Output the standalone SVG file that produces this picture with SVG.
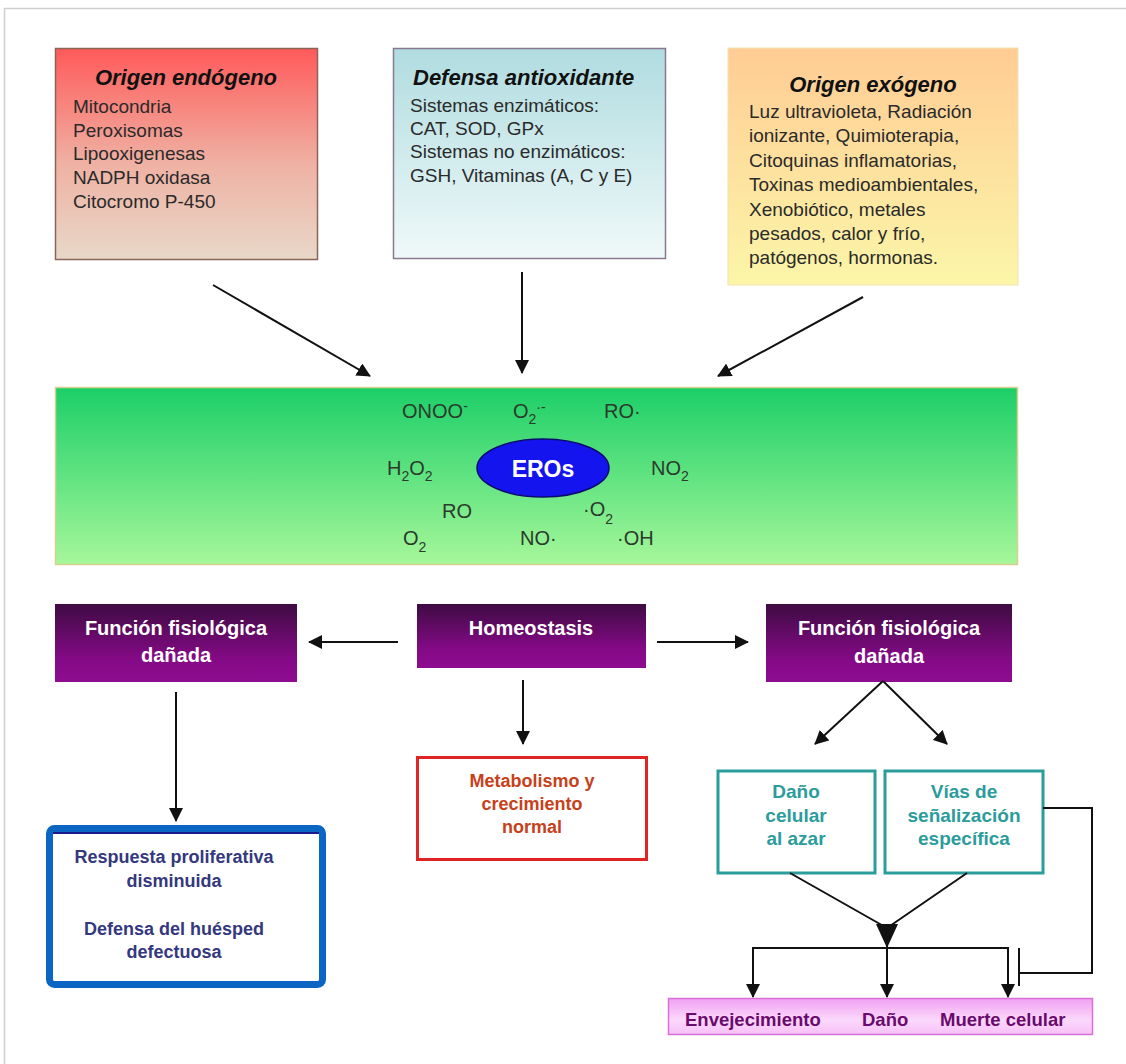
<svg xmlns="http://www.w3.org/2000/svg" width="1126" height="1064" viewBox="0 0 1126 1064">
<defs>
<linearGradient id="gRed" x1="0" y1="0" x2="0" y2="1"><stop offset="0" stop-color="#ff5a5a"/><stop offset="0.55" stop-color="#efb2a4"/><stop offset="1" stop-color="#e8d8c8"/></linearGradient>
<linearGradient id="gBlue" x1="0" y1="0" x2="0" y2="1"><stop offset="0" stop-color="#b0dce0"/><stop offset="1" stop-color="#f0f9f9"/></linearGradient>
<linearGradient id="gOrange" x1="0" y1="0" x2="0" y2="1"><stop offset="0" stop-color="#ffcc94"/><stop offset="1" stop-color="#fbf6a8"/></linearGradient>
<linearGradient id="gGreen" x1="0" y1="0" x2="0" y2="1"><stop offset="0" stop-color="#1ccf68"/><stop offset="1" stop-color="#a6f79a"/></linearGradient>
<linearGradient id="gPurple" x1="0" y1="0" x2="0" y2="1"><stop offset="0" stop-color="#3e0b42"/><stop offset="0.7" stop-color="#840a86"/><stop offset="1" stop-color="#8e0c90"/></linearGradient>
<linearGradient id="gPink" x1="0" y1="0" x2="0" y2="1"><stop offset="0" stop-color="#f2a0f2"/><stop offset="0.6" stop-color="#fbd8fb"/><stop offset="1" stop-color="#f8c0f8"/></linearGradient>
<marker id="arr" viewBox="0 0 14 14" refX="13" refY="7" markerWidth="14" markerHeight="14" markerUnits="userSpaceOnUse" orient="auto"><path d="M0,0 L14,7 L0,14 z" fill="#111"/></marker>
<style>
.t{font-family:"Liberation Sans",Arial,sans-serif;}
.body{font-size:19px;fill:#2a2a2a;}
.title{font-size:22px;font-weight:bold;font-style:italic;fill:#111;}
.ros{font-size:20px;fill:#2b3a2b;}
.sub{font-size:14px;}
.wb{font-size:20px;font-weight:bold;fill:#fff;text-anchor:middle;}
.teal{font-size:19px;font-weight:bold;fill:#2a9c9c;text-anchor:middle;}
.red{font-size:18px;font-weight:bold;fill:#c8401a;text-anchor:middle;}
.navy{font-size:18px;font-weight:bold;fill:#34387e;text-anchor:middle;}
.pink{font-size:18.5px;font-weight:bold;fill:#6a0a6e;}
.ln{stroke:#111;stroke-width:2;fill:none;}
</style>
</defs>
<rect width="1126" height="1064" fill="#fff"/>
<path d="M4.5,1064 V8.5 H1126" stroke="#cfcfcf" stroke-width="1.5" fill="none"/>

<g id="endogeno">
<rect x="55.5" y="48.5" width="262" height="211" fill="url(#gRed)" stroke="#8a6458" stroke-width="1.5"/>
<text class="t title" x="186" y="85" text-anchor="middle">Origen endógeno</text>
<text class="t body" x="73" y="113">Mitocondria</text>
<text class="t body" x="73" y="137">Peroxisomas</text>
<text class="t body" x="73" y="160">Lipooxigenesas</text>
<text class="t body" x="73" y="184">NADPH oxidasa</text>
<text class="t body" x="73" y="208">Citocromo P-450</text>
</g>

<g id="antioxidante">
<rect x="393.5" y="48.5" width="272" height="210" fill="url(#gBlue)" stroke="#8a7890" stroke-width="1.5"/>
<text class="t title" x="413" y="85">Defensa antioxidante</text>
<text class="t body" x="410" y="112">Sistemas enzimáticos:</text>
<text class="t body" x="410" y="135">CAT, SOD, GPx</text>
<text class="t body" x="410" y="158">Sistemas no enzimáticos:</text>
<text class="t body" x="410" y="182">GSH, Vitaminas (A, C y E)</text>
</g>

<g id="exogeno">
<rect x="728" y="48" width="290" height="237" fill="url(#gOrange)" stroke="#f2e2b0" stroke-width="1"/>
<text class="t title" x="873" y="92" text-anchor="middle">Origen exógeno</text>
<text class="t body" x="749" y="118">Luz ultravioleta, Radiación</text>
<text class="t body" x="749" y="142">ionizante, Quimioterapia,</text>
<text class="t body" x="749" y="167">Citoquinas inflamatorias,</text>
<text class="t body" x="749" y="191">Toxinas medioambientales,</text>
<text class="t body" x="749" y="216">Xenobiótico, metales</text>
<text class="t body" x="749" y="240">pesados, calor y frío,</text>
<text class="t body" x="749" y="264">patógenos, hormonas.</text>
</g>

<g id="eros">
<rect x="55.5" y="387.5" width="962" height="177" fill="url(#gGreen)" stroke="#d8d090" stroke-width="1.5"/>
<ellipse cx="543" cy="468" rx="66" ry="29" fill="#1414ee" stroke="#0a0a70" stroke-width="1.5"/>
<text class="t" x="543" y="477" text-anchor="middle" font-size="23" font-weight="bold" fill="#fff">EROs</text>
<text class="t ros" x="402" y="418">ONOO<tspan class="sub" dy="-7">-</tspan></text>
<text class="t ros" x="513" y="418">O<tspan class="sub" dy="6">2</tspan><tspan class="sub" dy="-12">·-</tspan></text>
<text class="t ros" x="604" y="418">RO·</text>
<text class="t ros" x="387" y="475">H<tspan class="sub" dy="6">2</tspan><tspan dy="-6">O</tspan><tspan class="sub" dy="6">2</tspan></text>
<text class="t ros" x="651" y="475">NO<tspan class="sub" dy="6">2</tspan></text>
<text class="t ros" x="442" y="518">RO</text>
<text class="t ros" x="583" y="516">·O<tspan class="sub" dy="8">2</tspan></text>
<text class="t ros" x="403" y="545">O<tspan class="sub" dy="7">2</tspan></text>
<text class="t ros" x="520" y="545">NO·</text>
<text class="t ros" x="617" y="545">·OH</text>
</g>

<g id="funcion-izq">
<rect x="55" y="604" width="242" height="78" fill="url(#gPurple)"/>
<text class="t wb" x="176" y="635">Función fisiológica</text>
<text class="t wb" x="176" y="662">dañada</text>
</g>

<g id="homeostasis">
<rect x="417" y="604" width="229" height="64" fill="url(#gPurple)"/>
<text class="t wb" x="531" y="635">Homeostasis</text>
</g>

<g id="funcion-der">
<rect x="766" y="604" width="246" height="78" fill="url(#gPurple)"/>
<text class="t wb" x="889" y="635">Función fisiológica</text>
<text class="t wb" x="889" y="663">dañada</text>
</g>

<g id="respuesta">
<rect x="49.5" y="828.5" width="273" height="156" rx="5" fill="#fff" stroke="#0a66c2" stroke-width="7"/>
<line x1="53" y1="833" x2="319" y2="833" stroke="#1a1a8c" stroke-width="2"/>
<text class="t navy" x="174" y="863">Respuesta proliferativa</text>
<text class="t navy" x="174" y="887">disminuida</text>
<text class="t navy" x="174" y="935">Defensa del huésped</text>
<text class="t navy" x="174" y="958">defectuosa</text>
</g>

<g id="metabolismo">
<rect x="417.5" y="757.5" width="229" height="102" fill="#fff" stroke="#e02424" stroke-width="3"/>
<text class="t red" x="532" y="787">Metabolismo y</text>
<text class="t red" x="532" y="810">crecimiento</text>
<text class="t red" x="532" y="833">normal</text>
</g>

<g id="dano-celular">
<rect x="718" y="771" width="157" height="102" fill="#fff" stroke="#2a9c9c" stroke-width="3"/>
<text class="t teal" x="796" y="798">Daño</text>
<text class="t teal" x="796" y="822">celular</text>
<text class="t teal" x="796" y="845">al azar</text>
</g>

<g id="senalizacion">
<rect x="885" y="771" width="158" height="102" fill="#fff" stroke="#2a9c9c" stroke-width="3"/>
<text class="t teal" x="964" y="798">Vías de</text>
<text class="t teal" x="964" y="822">señalización</text>
<text class="t teal" x="964" y="845">específica</text>
</g>

<g id="resultados">
<rect x="668.5" y="998.5" width="424" height="36" fill="url(#gPink)" stroke="#d870d8" stroke-width="1.5"/>
<text class="t pink" x="685" y="1026">Envejecimiento</text>
<text class="t pink" x="862" y="1026">Daño</text>
<text class="t pink" x="940" y="1026">Muerte celular</text>
</g>

<g id="connectors">
<line class="ln" x1="213" y1="285" x2="370" y2="376" marker-end="url(#arr)"/>
<line class="ln" x1="522" y1="272" x2="522" y2="373" marker-end="url(#arr)"/>
<line class="ln" x1="863" y1="297" x2="718" y2="376" marker-end="url(#arr)"/>
<line class="ln" x1="398" y1="642" x2="309" y2="642" marker-end="url(#arr)"/>
<line class="ln" x1="657" y1="642" x2="748" y2="642" marker-end="url(#arr)"/>
<line class="ln" x1="523" y1="680" x2="523" y2="744" marker-end="url(#arr)"/>
<line class="ln" x1="176" y1="692" x2="176" y2="821" marker-end="url(#arr)"/>
<line class="ln" x1="883" y1="681" x2="815" y2="744" marker-end="url(#arr)"/>
<line class="ln" x1="883" y1="681" x2="947" y2="744" marker-end="url(#arr)"/>
<path class="ln" d="M790,873 L887,928 M967,873 L887,928"/>
<polygon points="876,924 898,924 887,948" fill="#111"/>
<path class="ln" d="M753,948 H1008"/>
<line class="ln" x1="753" y1="947" x2="753" y2="997" marker-end="url(#arr)"/>
<line class="ln" x1="887" y1="945" x2="887" y2="997" marker-end="url(#arr)"/>
<line class="ln" x1="1008" y1="947" x2="1008" y2="997" marker-end="url(#arr)"/>
<path class="ln" d="M1043,808 H1092 V973 H1019"/>
<line class="ln" x1="1019" y1="948" x2="1019" y2="986"/>
</g>
</svg>
